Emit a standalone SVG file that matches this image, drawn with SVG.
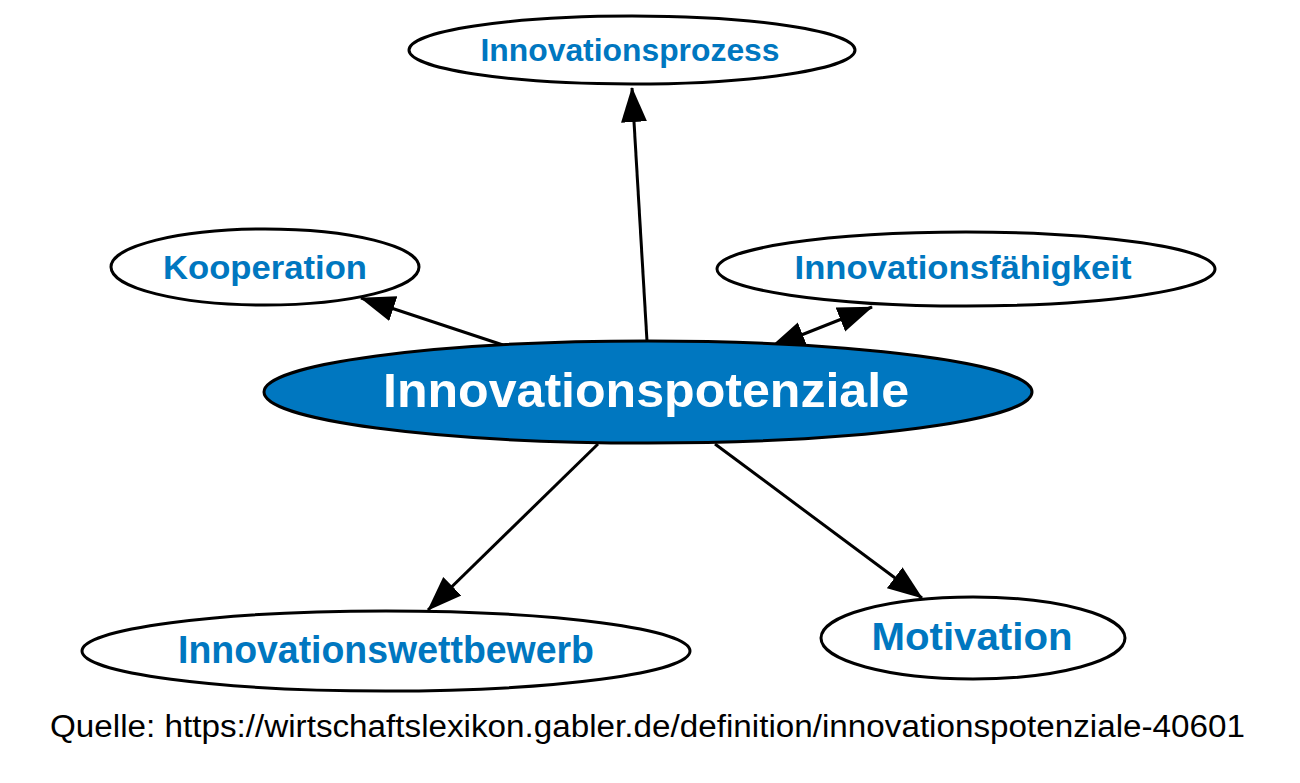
<svg xmlns="http://www.w3.org/2000/svg" width="1300" height="783" viewBox="0 0 1300 783">
<style>
.node{fill:#fff;stroke:#000;stroke-width:3}
.main{fill:#0077c0;stroke:#000;stroke-width:3}
.lbl{font-family:"Liberation Sans",Arial,sans-serif;font-weight:bold;fill:#0077c0;text-anchor:middle}
.mlbl{font-family:"Liberation Sans",Arial,sans-serif;font-weight:bold;fill:#fff;text-anchor:middle}
.edge{stroke:#000;stroke-width:3;fill:none}
.src{font-family:"Liberation Sans",Arial,sans-serif;fill:#000}
</style>
<defs>
<marker id="arr" markerUnits="userSpaceOnUse" markerWidth="36" markerHeight="28" refX="34" refY="14" orient="auto-start-reverse" viewBox="0 0 36 28">
<path d="M0,1 L35,14 L0,27 z" fill="#000"/>
</marker>
</defs>
<rect width="1300" height="783" fill="#fff"/>
<g id="connectors">
<line class="edge" x1="647" y1="341" x2="632" y2="88" marker-end="url(#arr)"/>
<line class="edge" x1="503" y1="345" x2="361" y2="298" marker-end="url(#arr)"/>
<line class="edge" x1="771" y1="347" x2="872" y2="307" marker-start="url(#arr)" marker-end="url(#arr)"/>
<line class="edge" x1="598" y1="444" x2="428" y2="610" marker-end="url(#arr)"/>
<line class="edge" x1="715" y1="444" x2="922" y2="598" marker-end="url(#arr)"/>
</g>
<g id="n_prozess">
<ellipse class="node" cx="632" cy="50" rx="223" ry="34"/>
<text class="lbl" x="630" y="61" font-size="32" textLength="299" lengthAdjust="spacingAndGlyphs">Innovationsprozess</text>
</g>
<g id="n_kooperation">
<ellipse class="node" cx="265" cy="267" rx="154" ry="38"/>
<text class="lbl" x="265" y="279" font-size="34" textLength="204" lengthAdjust="spacingAndGlyphs">Kooperation</text>
</g>
<g id="n_faehigkeit">
<ellipse class="node" cx="966" cy="269" rx="249" ry="37"/>
<text class="lbl" x="963" y="279" font-size="33" textLength="337" lengthAdjust="spacingAndGlyphs">Innovationsfähigkeit</text>
</g>
<g id="n_main">
<ellipse class="main" cx="648" cy="392" rx="384" ry="51"/>
<text class="mlbl" x="646" y="407" font-size="48" textLength="526" lengthAdjust="spacingAndGlyphs">Innovationspotenziale</text>
</g>
<g id="n_wettbewerb">
<ellipse class="node" cx="386" cy="651" rx="304" ry="40"/>
<text class="lbl" x="386" y="663" font-size="38" textLength="416" lengthAdjust="spacingAndGlyphs">Innovationswettbewerb</text>
</g>
<g id="n_motivation">
<ellipse class="node" cx="973" cy="638" rx="152" ry="41"/>
<text class="lbl" x="972" y="650" font-size="39" textLength="201" lengthAdjust="spacingAndGlyphs">Motivation</text>
</g>
<text class="src" x="50" y="737" font-size="31" textLength="1195" lengthAdjust="spacingAndGlyphs">Quelle: https://wirtschaftslexikon.gabler.de/definition/innovationspotenziale-40601</text>
</svg>
